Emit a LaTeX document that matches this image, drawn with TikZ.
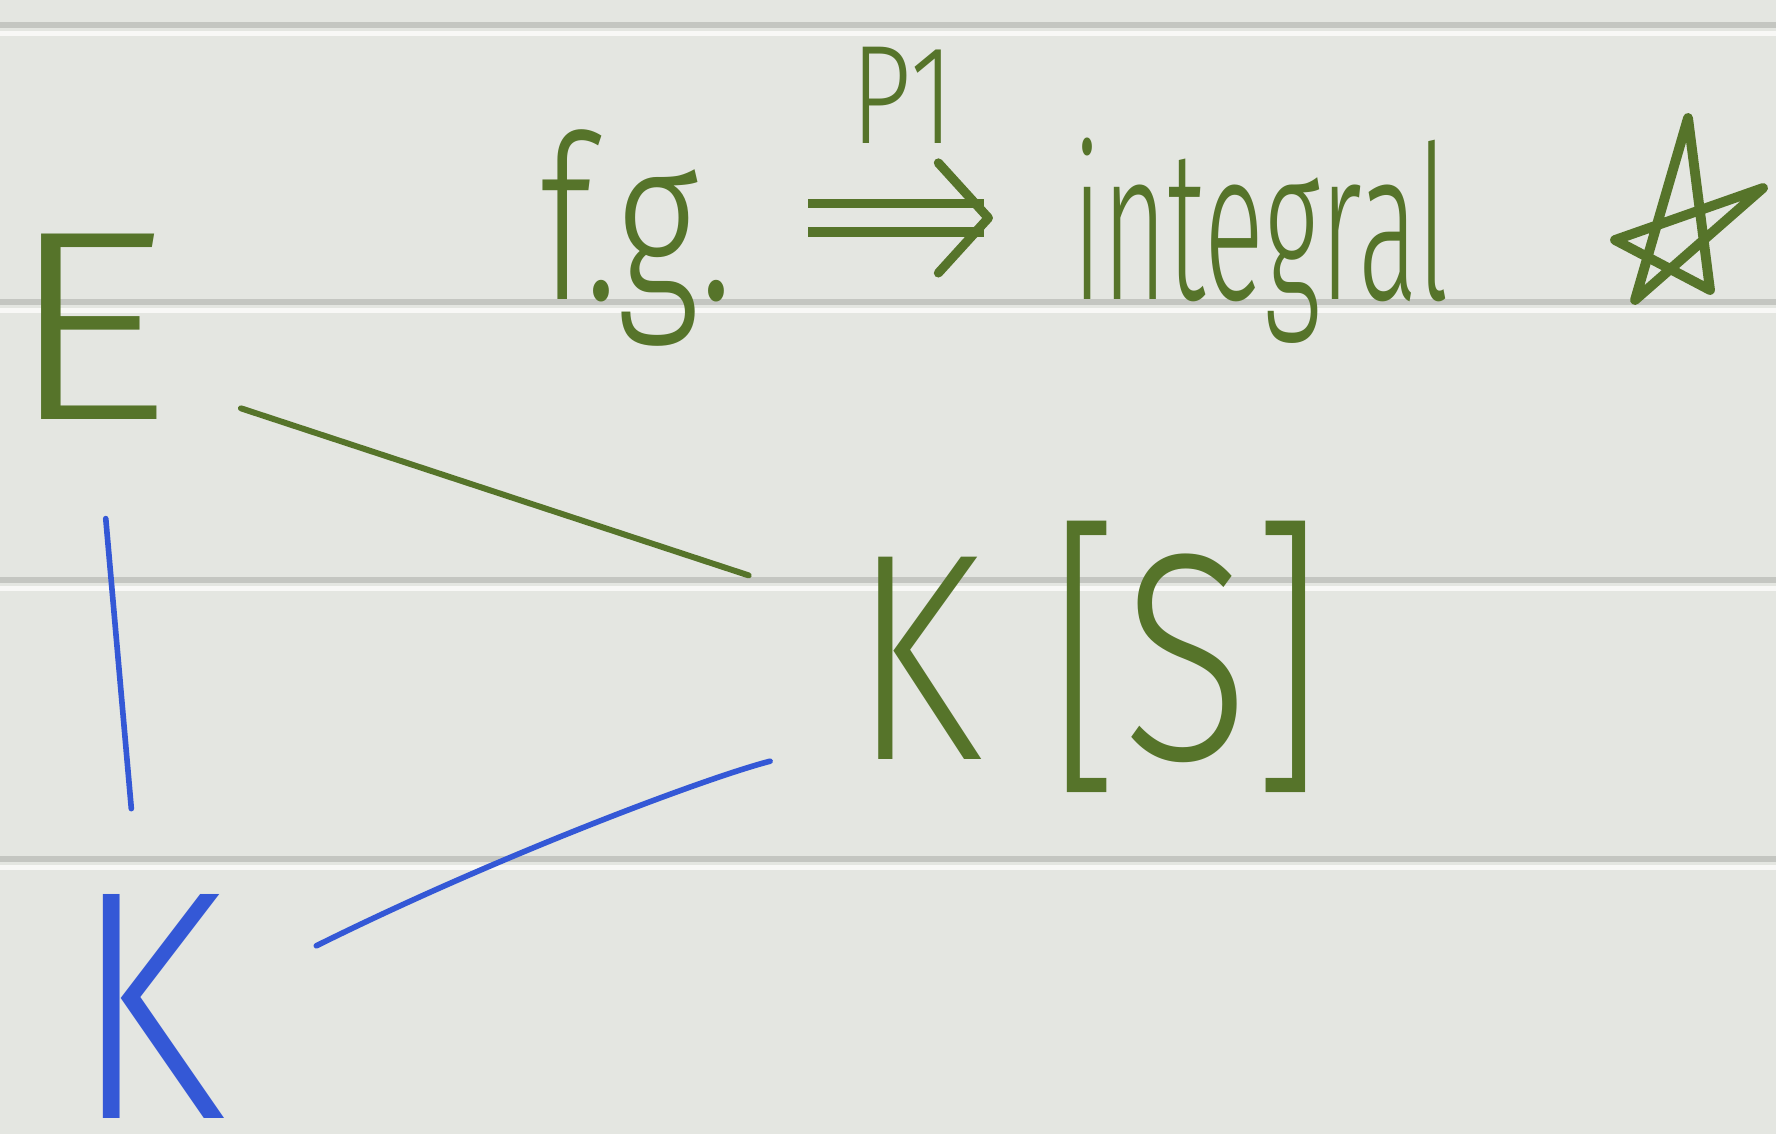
\documentclass[tikz,border=0pt]{standalone}
\usepackage{fontspec}
\usepackage{graphicx}
\usepackage{xcolor}
\usetikzlibrary{arrows.meta}
\IfFontExistsTF{Fira Sans Light}
  {\newfontfamily\handfont{Fira Sans Light}}
  {\newfontfamily\handfont{Fira Sans}}
\definecolor{paper}{RGB}{228,230,225}
\definecolor{ruleline}{RGB}{196,198,193}
\definecolor{rulewhite}{RGB}{248,248,246}
\definecolor{greenink}{RGB}{86,116,42}
\definecolor{blueink}{RGB}{52,88,214}
\newcommand{\hw}[3]{\fontsize{#1}{#1}\selectfont\scalebox{#2}[1]{#3}}

\begin{document}
\begin{tikzpicture}[x=0.01cm,y=-0.01cm,
  hand/.style={inner sep=0pt, anchor=base west, font=\handfont},
  greenpen/.style={draw=greenink, line width=1.7pt, line cap=round},
  bluepen/.style={draw=blueink, line width=1.6pt, line cap=round}]
\useasboundingbox (0,0) rectangle (1776,1134);
\fill[paper] (0,0) rectangle (1776,1134);
% ruled lines
\foreach \y in {25,302,580,859} {
  \fill[ruleline] (0,\y-3) rectangle (1776,\y+3);
  \fill[rulewhite] (0,\y+6) rectangle (1776,\y+11);
}

% Labels
\node[hand, text=greenink] (E) at (5,420) {\hw{77}{1.2}{E}};
\node[hand, text=greenink] (fg) at (539,300) {\hw{65}{0.72}{f.g.}};
\node[hand, text=greenink] (integ) at (1072,300) {\hw{61}{0.52}{integral}};
\node[hand, text=greenink] (KS) at (852,759) {\hw{84}{0.8}{K [S]}};
\node[hand, text=blueink] (K) at (72,1118) {\hw{93}{0.85}{K}};

% star
\draw[greenink, line width=2.8pt, line join=round, line cap=round]
  (1635,300) -- (1688,118) -- (1710,290) -- (1615,240) -- (1763,188) -- cycle;

% arrow
\draw[greenink, line width=2.6pt, double=paper, double distance=0.19cm,
  shorten <=0.74cm, shorten >=0.79cm,
  -{Straight Barb[length=0.5cm, width=1.1cm, line width=2.6pt, round]}]
  ([yshift=0.82cm]fg.base east) -- node[above=0.7cm, inner sep=0pt, text=greenink]
  (P) {\handfont\hw{40}{0.75}{P1}} ([yshift=0.82cm]integ.base west);

% lines
\draw[greenpen, shorten <=1.60cm, shorten >=3.58cm]
  ([yshift=-0.31cm]E.center) -- ([yshift=-0.31cm]KS.center);
\draw[bluepen, shorten <=1.92cm, shorten >=1.98cm] (E.center) -- (K.center);
\draw[bluepen, shorten <=1.87cm, shorten >=3.29cm]
  ([yshift=-0.23cm]K.center) to[bend left=6] ([yshift=-0.23cm]KS.center);
\end{tikzpicture}
\end{document}
